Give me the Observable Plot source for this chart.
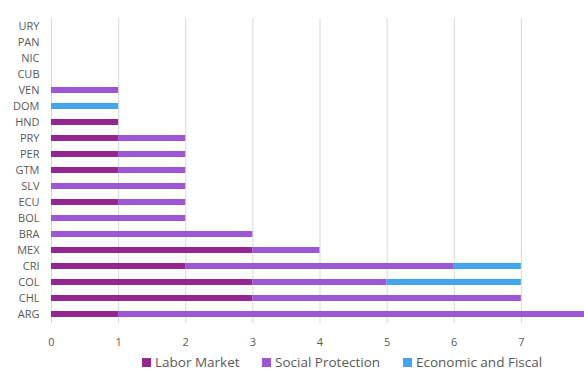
<!DOCTYPE html>
<html>
<head>
<meta charset="utf-8">
<script src="https://cdn.jsdelivr.net/npm/d3@7"></script>
<script src="https://cdn.jsdelivr.net/npm/@observablehq/plot@0.6"></script>
<style>
  html, body { margin: 0; padding: 0; background: #fff; overflow: hidden; width: 584px; height: 372px; }
  #chart { position: relative; width: 584px; height: 372px; overflow: hidden; font-family: "Open Sans", sans-serif; }
  #legend { position: absolute; left: 0; top: 353px; width: 584px; font-size: 13.5px; color: #595959; }
  .item { position: absolute; top: 0; white-space: nowrap; line-height: 18px; }
  .sw { display: inline-block; width: 9px; height: 9px; margin-right: 4px; vertical-align: 0px; }
</style>
</head>
<body>
<div id="chart"></div>
<script>
const countries = ["URY","PAN","NIC","CUB","VEN","DOM","HND","PRY","PER","GTM","SLV","ECU","BOL","BRA","MEX","CRI","COL","CHL","ARG"];
const seriesNames = ["Labor Market", "Social Protection", "Economic and Fiscal"];
const laborMarket      = [0,0,0,0,0,0,1,1,1,1,0,1,0,0,3,2,3,3,1];
const socialProtection = [0,0,0,0,1,0,0,1,1,1,2,1,2,3,1,4,2,4,7];
const economicFiscal   = [0,0,0,0,0,1,0,0,0,0,0,0,0,0,0,1,2,0,0];
const xTicks = [0,1,2,3,4,5,6,7];
const colors = ["#93278f", "#9d57d5", "#43a6ec"];

const seriesValues = [laborMarket, socialProtection, economicFiscal];
const data = [];
seriesNames.forEach((s, i) => countries.forEach((c, j) => data.push({country: c, series: s, value: seriesValues[i][j]})));

const plot = Plot.plot({
  width: 584,
  height: 352,
  marginLeft: 51,
  marginRight: -4,
  marginTop: 18,
  marginBottom: 29,
  style: {fontFamily: "Open Sans, sans-serif", fontSize: "11px", color: "#595959", background: "#fff"},
  x: {domain: [0, 8], ticks: xTicks, tickFormat: d => String(d), label: null},
  y: {domain: countries, paddingInner: 0.62, paddingOuter: 0.31, label: null},
  color: {domain: seriesNames, range: colors},
  marks: [
    Plot.ruleX(xTicks, {stroke: "#d9d9d9", strokeWidth: 1}),
    Plot.barX(data, Plot.stackX({x: "value", y: "country", fill: "series", inset: 0})),
    Plot.axisX({ticks: xTicks, tickSize: 0, tickPadding: 15, fill: "#595959", label: null, tickFormat: d => String(d)}),
    Plot.axisY({tickSize: 0, tickPadding: 12, fill: "#595959", label: null})
  ]
});
const chart = document.getElementById("chart");
chart.appendChild(plot);

const legend = document.createElement("div");
legend.id = "legend";
const positions = [142, 262, 403];
seriesNames.forEach((s, i) => {
  const it = document.createElement("div");
  it.className = "item";
  it.style.left = positions[i] + "px";
  it.innerHTML = `<span class="sw" style="background:${colors[i]}"></span>${s}`;
  legend.appendChild(it);
});
chart.appendChild(legend);
</script>
</body>
</html>
